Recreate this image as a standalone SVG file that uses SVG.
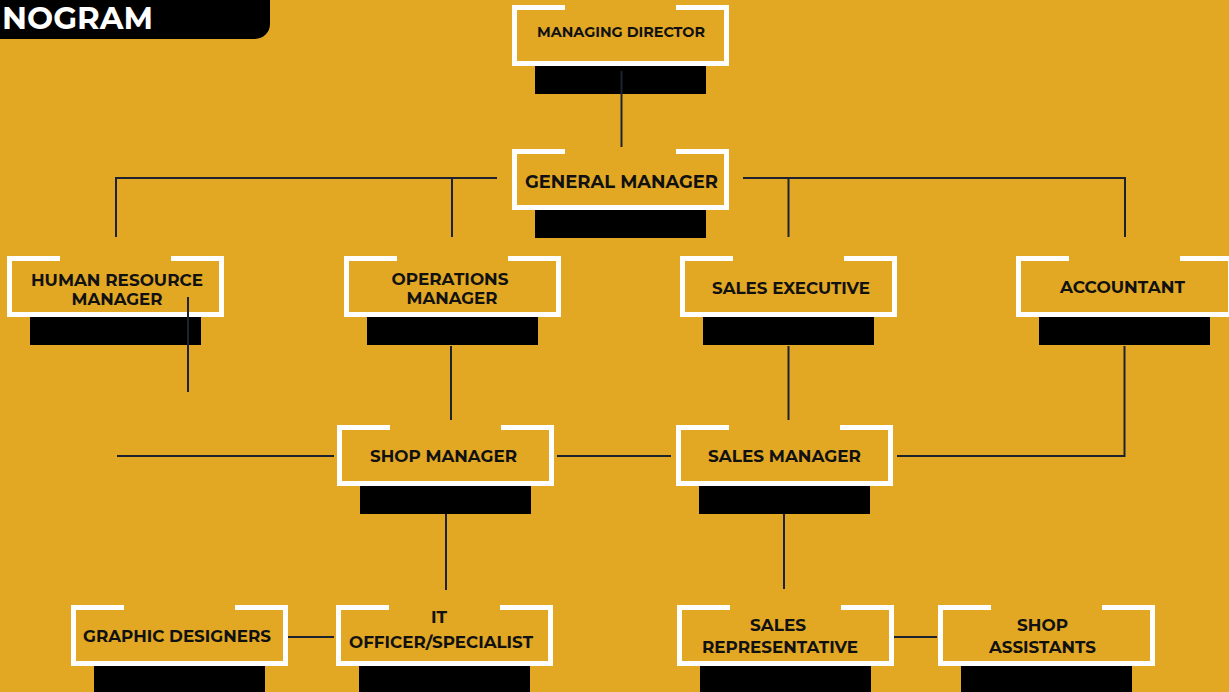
<svg xmlns="http://www.w3.org/2000/svg" xmlns:xlink="http://www.w3.org/1999/xlink" width="1229" height="692" viewBox="0 0 1229 692">
<style>
.frame{fill:none;stroke:#ffffff;stroke-width:5;stroke-linejoin:miter}
.bar{fill:#000000}
.lbl{font-family:"Montserrat","Liberation Sans",Arial,sans-serif;font-weight:bold;fill:#111111;text-anchor:middle}
.conn line, .conn polyline{stroke:#1d2230;stroke-width:2;fill:none}
</style>
<defs>
<g id="box">
<path class="frame" d="M53,2.5 H2.5 V58.5 H214.5 V2.5 H164"/>
<rect class="bar" x="23" y="61" width="171" height="28"/>
</g>
</defs>
<rect x="0" y="0" width="1229" height="692" fill="#E2A824"/>
<g id="title">
<rect x="-30" y="-30" width="300" height="69" rx="15" fill="#000000"/>
<text x="2" y="29" font-family="Montserrat,'Liberation Sans',Arial,sans-serif" font-weight="bold" font-size="31" fill="#ffffff" textLength="151" lengthAdjust="spacingAndGlyphs">NOGRAM</text>
</g>
<g id="nodes">
<g id="n-md"><use xlink:href="#box" x="512" y="5"/><text class="lbl" x="621" y="37" font-size="15" textLength="168" lengthAdjust="spacingAndGlyphs">MANAGING DIRECTOR</text></g>
<g id="n-gm"><use xlink:href="#box" x="512" y="149"/><text class="lbl" x="621.5" y="188" font-size="18.5" textLength="193" lengthAdjust="spacingAndGlyphs">GENERAL MANAGER</text></g>
<g id="n-hr"><use xlink:href="#box" x="7" y="256"/><text class="lbl" x="117" y="286" font-size="17" textLength="172" lengthAdjust="spacingAndGlyphs">HUMAN RESOURCE</text><text class="lbl" x="117" y="305" font-size="17" textLength="91" lengthAdjust="spacingAndGlyphs">MANAGER</text></g>
<g id="n-ops"><use xlink:href="#box" x="344" y="256"/><text class="lbl" x="450" y="285" font-size="17" textLength="117" lengthAdjust="spacingAndGlyphs">OPERATIONS</text><text class="lbl" x="452" y="304" font-size="17" textLength="91" lengthAdjust="spacingAndGlyphs">MANAGER</text></g>
<g id="n-se"><use xlink:href="#box" x="680" y="256"/><text class="lbl" x="791" y="294" font-size="17" textLength="158" lengthAdjust="spacingAndGlyphs">SALES EXECUTIVE</text></g>
<g id="n-acc"><use xlink:href="#box" x="1016" y="256"/><text class="lbl" x="1122.5" y="293" font-size="17" textLength="125" lengthAdjust="spacingAndGlyphs">ACCOUNTANT</text></g>
<g id="n-shop"><use xlink:href="#box" x="337" y="425"/><text class="lbl" x="443.5" y="462" font-size="17" textLength="147" lengthAdjust="spacingAndGlyphs">SHOP MANAGER</text></g>
<g id="n-sm"><use xlink:href="#box" x="676" y="425"/><text class="lbl" x="784.5" y="462" font-size="17" textLength="153" lengthAdjust="spacingAndGlyphs">SALES MANAGER</text></g>
<g id="n-gd"><use xlink:href="#box" x="71" y="605"/><text class="lbl" x="177" y="642" font-size="17" textLength="188" lengthAdjust="spacingAndGlyphs">GRAPHIC DESIGNERS</text></g>
<g id="n-it"><use xlink:href="#box" x="336" y="605"/><text class="lbl" x="439" y="623" font-size="17">IT</text><text class="lbl" x="441" y="648" font-size="17" textLength="184" lengthAdjust="spacingAndGlyphs">OFFICER/SPECIALIST</text></g>
<g id="n-sr"><use xlink:href="#box" x="677" y="605"/><text class="lbl" x="778" y="631" font-size="17" textLength="56" lengthAdjust="spacingAndGlyphs">SALES</text><text class="lbl" x="780" y="653" font-size="17" textLength="156" lengthAdjust="spacingAndGlyphs">REPRESENTATIVE</text></g>
<g id="n-sa"><use xlink:href="#box" x="938" y="605"/><text class="lbl" x="1042.5" y="631" font-size="17" textLength="51" lengthAdjust="spacingAndGlyphs">SHOP</text><text class="lbl" x="1042.5" y="653" font-size="17" textLength="107" lengthAdjust="spacingAndGlyphs">ASSISTANTS</text></g>
</g>
<g id="connectors" class="conn">
<line x1="621.5" y1="71" x2="621.5" y2="147"/>
<polyline points="116,237 116,178 497,178"/>
<line x1="452" y1="178" x2="452" y2="237"/>
<polyline points="743,178 1125,178 1125,237"/>
<line x1="788.5" y1="178" x2="788.5" y2="237"/>
<line x1="188" y1="297" x2="188" y2="392"/>
<line x1="451" y1="346" x2="451" y2="420"/>
<line x1="788.5" y1="346" x2="788.5" y2="420"/>
<polyline points="1124.5,346 1124.5,456 897,456"/>
<line x1="117" y1="456" x2="334" y2="456"/>
<line x1="557" y1="456" x2="671" y2="456"/>
<line x1="446" y1="514" x2="446" y2="590"/>
<line x1="784" y1="514" x2="784" y2="589"/>
<line x1="288" y1="637" x2="334" y2="637"/>
<line x1="894" y1="637" x2="937" y2="637"/>
</g>
</svg>
